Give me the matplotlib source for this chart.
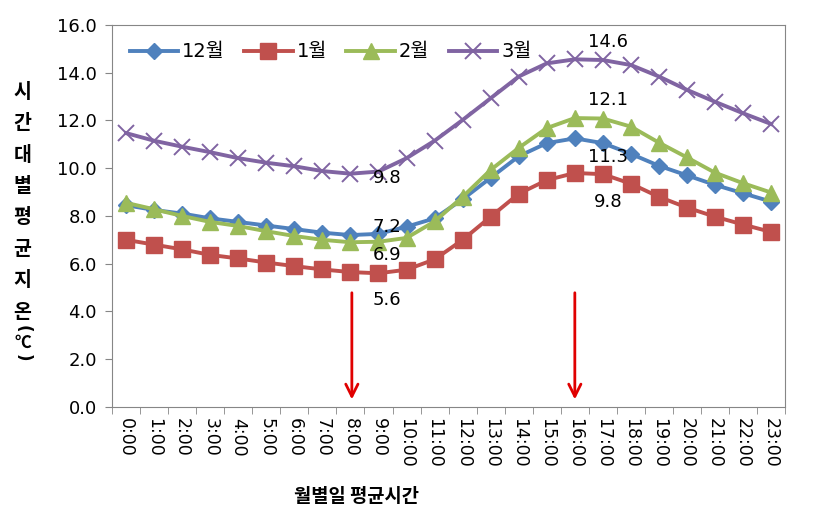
import numpy as np
import matplotlib
matplotlib.use("Agg")
import matplotlib.pyplot as plt

plt.rcParams['font.family'] = ['DejaVu Sans', 'Noto Sans CJK KR']

hours = ["%d:00" % h for h in range(24)]

# monthly mean soil temperature by hour
dec = [8.45, 8.25, 8.1, 7.9, 7.75, 7.6, 7.45, 7.3, 7.2, 7.25, 7.55, 7.9, 8.7, 9.6,
       10.5, 11.05, 11.25, 11.05, 10.6, 10.1, 9.7, 9.3, 8.95, 8.6]
jan = [7.0, 6.8, 6.6, 6.37, 6.22, 6.05, 5.9, 5.76, 5.65, 5.6, 5.75, 6.18, 7.0, 7.97,
       8.93, 9.5, 9.8, 9.75, 9.35, 8.8, 8.35, 7.97, 7.64, 7.33]
feb = [8.55, 8.28, 8.0, 7.75, 7.58, 7.36, 7.16, 7.0, 6.9, 6.92, 7.08, 7.77, 8.8, 9.93,
       10.85, 11.68, 12.1, 12.08, 11.74, 11.07, 10.45, 9.81, 9.37, 8.98]
mar = [11.47, 11.15, 10.9, 10.67, 10.42, 10.23, 10.08, 9.88, 9.77, 9.86, 10.42, 11.15,
       12.02, 12.93, 13.84, 14.39, 14.56, 14.53, 14.32, 13.84, 13.28, 12.78, 12.3, 11.85]

series = [("12월", dec, '#4F81BD', 'D', 8.5),
          ("1월", jan, '#C0504D', 's', 11.5),
          ("2월", feb, '#9BBB59', '^', 11),
          ("3월", mar, '#8064A2', 'x', 11)]

# data labels: (x, y, text)
labels = [(9.3, 9.6, "9.8"), (9.3, 7.55, "7.2"), (9.3, 6.35, "6.9"), (9.3, 4.5, "5.6"),
          (17.2, 15.3, "14.6"), (17.2, 12.85, "12.1"), (17.2, 10.45, "11.3"), (17.2, 8.6, "9.8")]

fig = plt.figure(figsize=(8.3, 5.27), dpi=100)
ax = fig.add_axes([0.135, 0.2277, 0.811, 0.725])

x = np.arange(len(hours))
for name, vals, c, m, ms in series:
    if m == 'x':
        ax.plot(x, vals, color=c, lw=2.8, marker=m, ms=ms, mew=1.4, label=name)
    else:
        ax.plot(x, vals, color=c, lw=2.8, marker=m, ms=ms, mec=c, label=name)

for lx, ly, t in labels:
    ax.text(lx, ly, t, ha='center', va='center', fontsize=13)

# arrows at 8:00 and 16:00
for ax_x in [8.05, 16.0]:
    ax.annotate("", xy=(ax_x, 0.2), xytext=(ax_x, 4.9),
                arrowprops=dict(arrowstyle='->', color='#E00000', lw=2,
                                mutation_scale=22))

ax.set_xlim(-0.5, 23.5)
ax.set_ylim(0, 16)
ax.set_yticks(np.arange(0, 16.1, 2))
ax.set_yticklabels(["%.1f" % v for v in np.arange(0, 16.1, 2)], fontsize=13)
ax.set_xticks(x)
ax.set_xticklabels(hours, rotation=-90, fontsize=12.5)
ax.set_xticks(np.arange(-0.5, 24, 1), minor=True)
ax.tick_params(axis='x', which='major', length=0, pad=8)
ax.tick_params(axis='x', which='minor', length=5, color='#868686')
ax.tick_params(axis='y', length=5, color='#868686', pad=6)
for s in ax.spines.values():
    s.set_color('#868686')

fig.text(356 / 830, 1 - 497 / 527, "월별일 평균시간", ha='center', va='center',
         fontsize=13.5, fontweight='bold', family=['Noto Sans CJK KR'])

# vertical stacked y label
ylab = "시간대별평균지온"
for i, ch in enumerate(ylab):
    fig.text(0.027, 1 - (92 + i * 31.5) / 527, ch, ha='center', va='center',
             fontsize=14, fontweight='bold', family=['Noto Sans CJK KR'])
fig.text(0.027, 1 - 329 / 527, "(", ha='center', va='center', rotation=-90,
         fontsize=12, fontweight='bold')
fig.text(0.027, 1 - 343 / 527, "℃", ha='center', va='center',
         fontsize=12, fontweight='bold', family=['Noto Sans CJK KR', 'DejaVu Sans'])
fig.text(0.027, 1 - 358 / 527, ")", ha='center', va='center', rotation=-90,
         fontsize=12, fontweight='bold')

ax.legend(loc='upper left', bbox_to_anchor=(0.0, 1.0), ncol=4, frameon=False,
          fontsize=14, handlelength=2.5, columnspacing=1.0, handletextpad=0.2)

fig.savefig("out.png", dpi=100)
